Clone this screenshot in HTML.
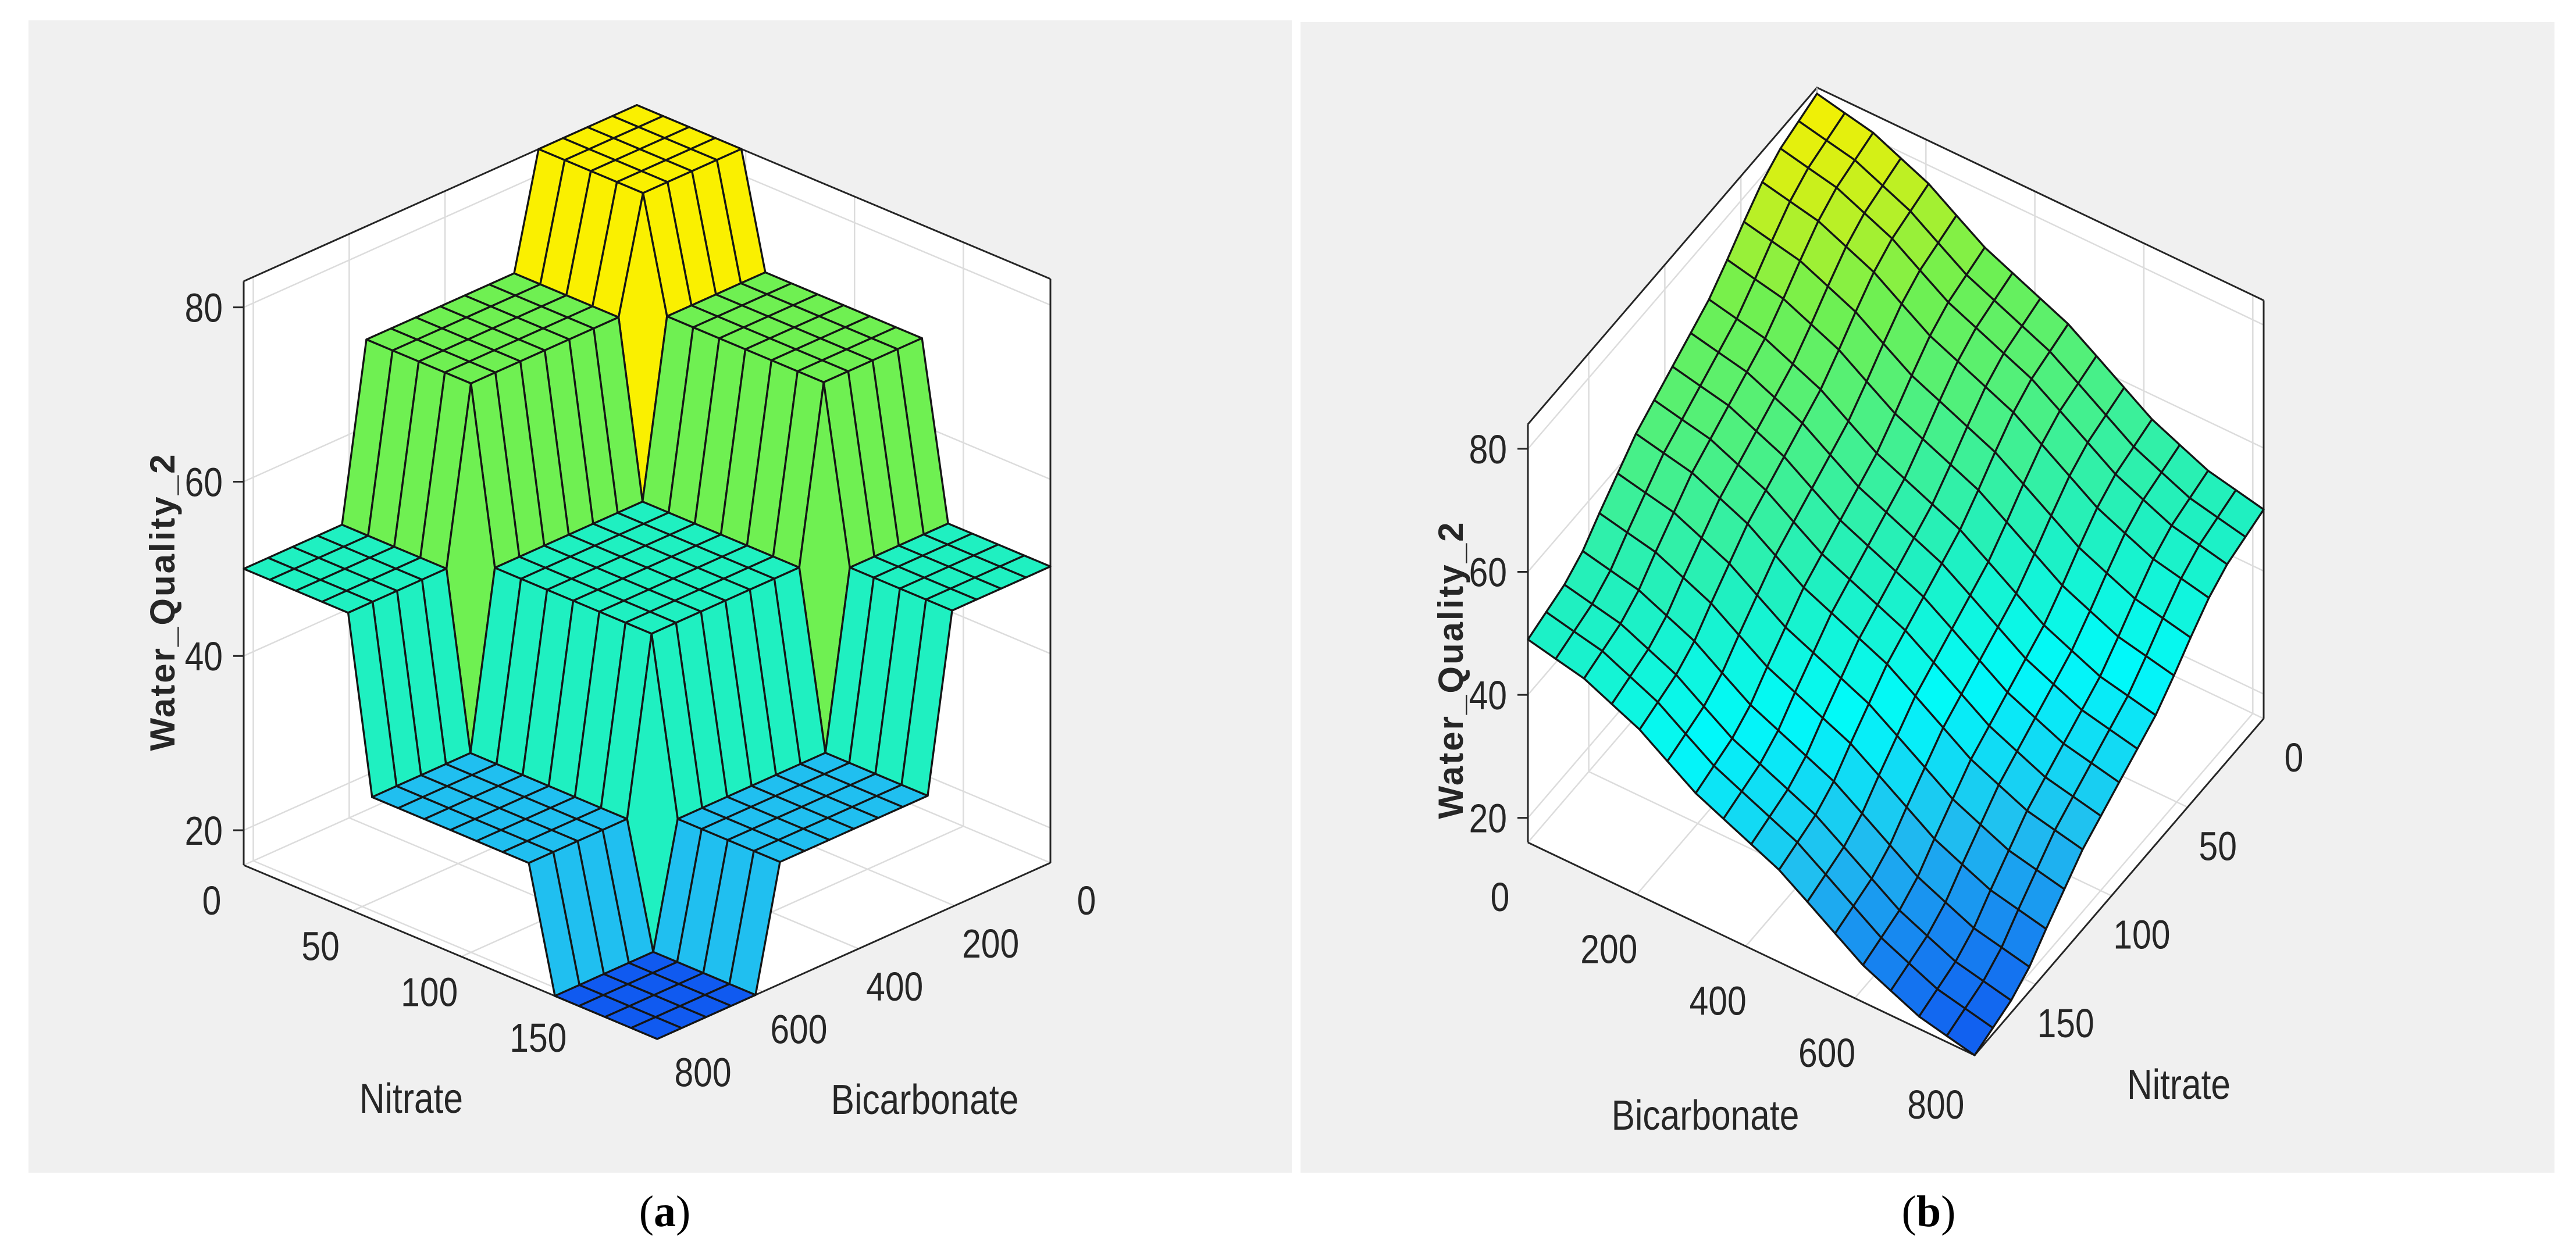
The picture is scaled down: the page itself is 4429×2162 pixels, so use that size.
<!DOCTYPE html>
<html><head><meta charset="utf-8">
<style>
html,body{margin:0;padding:0;background:#fff;}
svg{display:block;}
.tk{font-family:"Liberation Sans Narrow","Liberation Sans",sans-serif;font-size:70px;fill:#262626;}
.ttl{font-family:"Liberation Sans Narrow","Liberation Sans",sans-serif;font-size:72px;fill:#262626;}
.zt{font-family:"Liberation Sans",sans-serif;font-size:60px;fill:#262626;font-weight:bold;}
.cap{font-family:"Liberation Serif",serif;font-size:76px;fill:#000;}
</style></head>
<body>
<svg id="fig" width="4429" height="2162" viewBox="0 0 4429 2162" xmlns="http://www.w3.org/2000/svg">
<rect x="0" y="0" width="4429" height="2162" fill="#ffffff"/>
<rect x="49" y="35" width="2172" height="1982" fill="#f0f0f0"/>
<rect x="2236" y="38" width="2156" height="1979" fill="#f0f0f0"/>
<g id="pa"></g>
<g id="pb"></g>
<text class="cap" x="1143" y="2109" text-anchor="middle">(<tspan font-weight="bold">a</tspan>)</text>
<text class="cap" x="3316" y="2109" text-anchor="middle">(<tspan font-weight="bold">b</tspan>)</text>
</svg>
<script>
// ---- data ----
const nitrateGrid = [0,12,24,36,48,59,71,83,95,107,119,131,143,154,166,178,190];
const bicarbonateGrid = [0,51,103,154,205,256,308,359,410,461,513,564,615,666,718,769,820];
const levelsA = [[83,70,50],[70,50,30],[50,30,16]];
const bandsNitrateA = [0,0,0,0,0,1,1,1,1,1,1,1,2,2,2,2,2];
const bandsBicarbA = [0,0,0,0,0,1,1,1,1,1,1,1,2,2,2,2,2];
const baseB = 83;
const nitrateProfileB = [0,-1,-2,-4,-7,-10,-13,-15,-17,-19,-21,-24,-27,-30,-32,-33,-34];
const bicarbProfileB = [0,-1,-2,-4,-6,-9,-12,-14,-16,-18,-21,-24,-27,-29,-31,-32,-33];
const zTicks = [20,40,60,80];
const nitrateTicks = [0,50,100,150];
const bicarbTicks = [0,200,400,600,800];

const NS='http://www.w3.org/2000/svg';
function mk(parent,tag,attrs){const e=document.createElementNS(NS,tag);for(const k in attrs)e.setAttribute(k,attrs[k]);parent.appendChild(e);return e;}
const SX=0.84;
function txt(parent,cls,x,y,anchor,str){const t=mk(parent,'text',{class:cls,x:0,y:0,'text-anchor':anchor,transform:'translate('+x.toFixed(1)+','+y.toFixed(1)+') scale('+SX+',1)'});t.textContent=str;return t;}

const stops=[[0,[16,90,240]],[0.21,[32,192,240]],[0.36,[0,250,250]],[0.51,[32,240,192]],[0.81,[112,240,80]],[1,[250,240,0]]];
function cmap(t){t=Math.max(0,Math.min(1,t));for(let i=1;i<stops.length;i++){if(t<=stops[i][0]){const a=stops[i-1],b=stops[i];const f=(t-a[0])/(b[0]-a[0]);const c=a[1].map((v,k)=>Math.round(v+(b[1][k]-v)*f));return 'rgb('+c.join(',')+')';}}return 'rgb(250,240,0)';}

function makePanel(g,cfg,Z){
  const nR=cfg.nR,bR=cfg.bR,zmin=cfg.zmin,zmax=cfg.zmax;
  function P(n,b,z){const u=n/nR,v=b/bR;return [cfg.o[0]+cfg.eN[0]*u+cfg.eB[0]*v, cfg.o[1]+cfg.eN[1]*u+cfg.eB[1]*v-(z-zmin)*cfg.zs];}
  const pt=p=>p[0].toFixed(1)+','+p[1].toFixed(1);
  const hex=[P(0,bR,zmin),P(nR,bR,zmin),P(nR,0,zmin),P(nR,0,zmax),P(0,0,zmax),P(0,bR,zmax)];
  const bg=mk(g,'polygon',{points:hex.map(pt).join(' '),fill:'#ffffff'});
  
  
  const grid=mk(g,'g',{stroke:'#dcdcdc','stroke-width':2.5,fill:'none'});
  
  
  zTicks.forEach(z=>{mk(grid,'polyline',{points:[P(0,bR,z),P(0,0,z),P(nR,0,z)].map(pt).join(' ')});});
  nitrateTicks.forEach(n=>{mk(grid,'polyline',{points:[P(n,bR,zmin),P(n,0,zmin),P(n,0,zmax)].map(pt).join(' ')});});
  bicarbTicks.forEach(b=>{mk(grid,'polyline',{points:[P(nR,b,zmin),P(0,b,zmin),P(0,b,zmax)].map(pt).join(' ')});});
  const box=mk(g,'g',{stroke:'#262626','stroke-width':3,fill:'none'});
  
  
  mk(box,'polyline',{points:[P(0,bR,zmax),P(0,0,zmax),P(nR,0,zmax)].map(pt).join(' ')});
  mk(box,'polyline',{points:[P(0,bR,zmin),P(0,bR,zmax)].map(pt).join(' ')});
  mk(box,'polyline',{points:[P(nR,0,zmin),P(nR,0,zmax)].map(pt).join(' ')});
  mk(box,'polyline',{points:[P(0,0,zmin),P(0,0,zmax)].map(pt).join(' '),stroke:'#bdbdbd'});
  mk(box,'polyline',{points:[P(0,bR,zmin),P(nR,bR,zmin),P(nR,0,zmin)].map(pt).join(' ')});
  const surf=mk(g,'g',{stroke:'#151515','stroke-width':3.4,'stroke-linejoin':'round'});
  
  
  const cells=[];
  for(let i=0;i<nitrateGrid.length-1;i++)for(let j=0;j<bicarbonateGrid.length-1;j++)cells.push([i,j]);
  cells.sort((a,b)=>(a[0]+a[1])-(b[0]+b[1]));
  cells.forEach(([i,j])=>{
    const z=[Z[i][j],Z[i+1][j],Z[i+1][j+1],Z[i][j+1]];
    const pts=[P(nitrateGrid[i],bicarbonateGrid[j],z[0]),P(nitrateGrid[i+1],bicarbonateGrid[j],z[1]),P(nitrateGrid[i+1],bicarbonateGrid[j+1],z[2]),P(nitrateGrid[i],bicarbonateGrid[j+1],z[3])];
    const m=cfg.flat?z[0]:(z[0]+z[1]+z[2]+z[3])/4;
    const c=mk(surf,'polygon',{points:pts.map(pt).join(' '),fill:cmap((m-16)/(83-16))});
    
    
  });
  const tl=mk(g,'g',{});
  
  
  zTicks.forEach(z=>{const p=P(cfg.zc[0],cfg.zc[1],z);mk(tl,'line',{x1:p[0],y1:p[1],x2:p[0]-18,y2:p[1],stroke:'#262626','stroke-width':3});
    const t=txt(tl,'tk',p[0]-cfg.zlx,p[1]+25,'end',String(z));
    
    });
  nitrateTicks.forEach(n=>{const p=cfg.nTickPos(P,n);const t=txt(tl,'tk',p[0],p[1]+25,'middle',String(n));
    
    });
  bicarbTicks.forEach(b=>{const p=cfg.bTickPos(P,b);const t=txt(tl,'tk',p[0],p[1]+25,'middle',String(b));
    
    });
  let t=txt(g,'ttl',cfg.nt[0],cfg.nt[1],'middle','Nitrate');
  
  
  t=txt(g,'ttl',cfg.bt[0],cfg.bt[1],'middle','Bicarbonate');
  
  
  t=mk(g,'text',{class:'zt',x:0,y:0,'text-anchor':'middle',transform:'translate('+cfg.zt[0]+','+cfg.zt[1]+') rotate(-90)','letter-spacing':'3'});t.textContent='Water_Quality_2';
  
  
}

const ZA=bandsNitrateA.map(bn=>bandsBicarbA.map(bb=>levelsA[bn][bb]));
makePanel(document.getElementById('pa'),{
  nR:190,bR:820,zmin:16,zmax:83,o:[1095,1185],eN:[711,299],eB:[-676,303],zs:14.99,zlx:36,zc:[0,820],flat:true,
  nTickPos:(P,n)=>{const p=P(n,820,16);return [p[0]-55,p[1]+60];},
  bTickPos:(P,b)=>{const p=P(190,b,16);return [p[0]+62,p[1]+64];},
  nt:[707,1914],bt:[1590,1916],zt:[300,1035]
},ZA);

const ZB=nitrateProfileB.map(a=>bicarbProfileB.map(b=>baseB+a+b));
makePanel(document.getElementById('pb'),{
  nR:190,bR:820,zmin:16,zmax:84,o:[3124,870],eN:[-497,579],eB:[768,366],zs:10.58,zlx:36,zc:[190,0],flat:false,
  nTickPos:(P,n)=>{const p=P(n,820,16);return [p[0]+52,p[1]+66];},
  bTickPos:(P,b)=>{const p=P(190,b,16);return [p[0]-48,p[1]+93];},
  nt:[3746,1890],bt:[2932,1943],zt:[2515,1152]
},ZB);
</script>
</body></html>
